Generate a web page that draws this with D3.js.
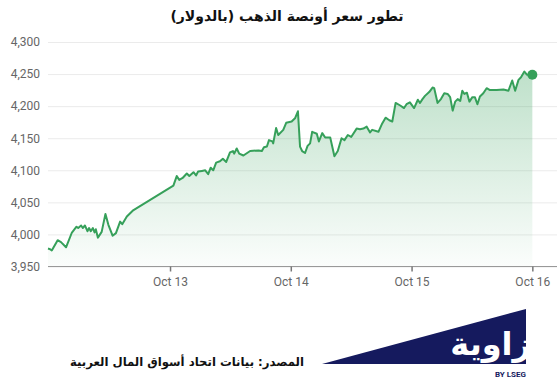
<!DOCTYPE html>
<html><head><meta charset="utf-8">
<script src="https://cdn.jsdelivr.net/npm/d3@7"></script>
<style>body{margin:0;background:#fff}svg{display:block}</style>
</head><body>
<svg id="c" width="557" height="385"></svg>
<script>
const titleText = "تطور سعر أونصة الذهب (بالدولار)";
const sourceText = "المصدر: بيانات اتحاد أسواق المال العربية";
const logoText = "زاوية";
const logoSub = "BY LSEG";
const yTicks = [3950, 4000, 4050, 4100, 4150, 4200, 4250, 4300];
const xTicks = ["2025-10-13 00:00", "2025-10-14 00:00", "2025-10-15 00:00", "2025-10-16 00:00"];
const xDomain = ["2025-10-11 23:45", "2025-10-16 04:54"];
const times = [
"2025-10-11 23:45","2025-10-12 00:10","2025-10-12 00:30","2025-10-12 01:40","2025-10-12 02:20","2025-10-12 03:20",
"2025-10-12 04:30","2025-10-12 05:25","2025-10-12 05:45","2025-10-12 06:20","2025-10-12 06:40","2025-10-12 07:05",
"2025-10-12 07:35","2025-10-12 07:55","2025-10-12 08:15","2025-10-12 08:40","2025-10-12 09:00","2025-10-12 09:15",
"2025-10-12 09:40","2025-10-12 10:25","2025-10-12 11:10","2025-10-12 11:45","2025-10-12 12:35","2025-10-12 13:15",
"2025-10-12 14:05","2025-10-12 14:30","2025-10-12 15:25","2025-10-12 16:35",
"2025-10-13 00:40","2025-10-13 01:20","2025-10-13 01:50","2025-10-13 02:30","2025-10-13 03:20","2025-10-13 03:50",
"2025-10-13 04:40","2025-10-13 05:10","2025-10-13 05:35","2025-10-13 06:20","2025-10-13 07:00","2025-10-13 07:35",
"2025-10-13 08:05","2025-10-13 08:35","2025-10-13 09:10","2025-10-13 09:55","2025-10-13 10:30","2025-10-13 11:10",
"2025-10-13 11:55","2025-10-13 12:30","2025-10-13 12:45","2025-10-13 13:15","2025-10-13 13:45","2025-10-13 14:35",
"2025-10-13 15:55","2025-10-13 17:35","2025-10-13 18:15","2025-10-13 18:40","2025-10-13 19:15","2025-10-13 19:40",
"2025-10-13 20:20","2025-10-13 20:30","2025-10-13 21:05","2025-10-13 21:30","2025-10-13 22:30","2025-10-13 23:05",
"2025-10-14 00:10","2025-10-14 00:50","2025-10-14 01:25","2025-10-14 01:50","2025-10-14 02:15","2025-10-14 02:50",
"2025-10-14 03:20","2025-10-14 03:50","2025-10-14 04:15","2025-10-14 05:10","2025-10-14 05:35","2025-10-14 06:15",
"2025-10-14 06:50","2025-10-14 07:50","2025-10-14 08:40","2025-10-14 09:20","2025-10-14 10:05","2025-10-14 10:40",
"2025-10-14 11:20","2025-10-14 12:00","2025-10-14 13:05","2025-10-14 13:45","2025-10-14 14:25","2025-10-14 15:05",
"2025-10-14 15:45","2025-10-14 16:10","2025-10-14 17:25","2025-10-14 18:10","2025-10-14 18:50","2025-10-14 19:35",
"2025-10-14 20:10","2025-10-14 20:50","2025-10-14 21:45","2025-10-14 22:30","2025-10-14 23:00","2025-10-14 23:40",
"2025-10-15 00:30","2025-10-15 01:15","2025-10-15 01:40","2025-10-15 02:10","2025-10-15 02:40","2025-10-15 03:30",
"2025-10-15 04:10","2025-10-15 04:30","2025-10-15 05:10","2025-10-15 05:50","2025-10-15 06:30","2025-10-15 07:10",
"2025-10-15 07:40","2025-10-15 08:10","2025-10-15 08:40","2025-10-15 09:10","2025-10-15 09:40","2025-10-15 10:05",
"2025-10-15 10:30","2025-10-15 11:00","2025-10-15 11:30","2025-10-15 12:05","2025-10-15 12:35","2025-10-15 13:05",
"2025-10-15 13:35","2025-10-15 14:15","2025-10-15 14:55","2025-10-15 15:35","2025-10-15 16:55","2025-10-15 18:15",
"2025-10-15 19:15","2025-10-15 20:00","2025-10-15 20:35","2025-10-15 21:15","2025-10-15 21:45","2025-10-15 22:25",
"2025-10-15 22:55","2025-10-16 00:00"];
const prices = [
3978,3977,3975,3991,3988,3980,
4003,4012,4010,4014,4010,4014,
4005,4010,4005,4010,4003,4008,
3995,4004,4032,4015,3998,4002,
4020,4016,4028,4037,
4076,4091,4085,4088,4095,4091,
4097,4092,4098,4099,4100,4094,
4104,4100,4112,4114,4118,4113,
4128,4130,4126,4134,4126,4123,
4130,4131,4130,4136,4137,4147,
4145,4142,4166,4155,4163,4174,
4176,4181,4192,4137,4130,4127,
4138,4142,4160,4157,4145,4158,
4151,4151,4122,4130,4150,4147,
4155,4152,4165,4164,4165,4168,
4159,4163,4160,4173,4182,4178,
4176,4205,4201,4197,4203,4206,
4197,4210,4205,4211,4216,4222,
4229,4228,4205,4211,4220,4219,
4214,4193,4207,4211,4208,4224,
4219,4221,4207,4214,4214,4203,
4215,4220,4228,4225,4225,4226,
4224,4240,4224,4241,4245,4254,
4249,4249];

const parse = d3.timeParse("%Y-%m-%d %H:%M");
const data = times.map((t, i) => ({t: parse(t), v: prices[i]}));

const W = 557, H = 385;
const L = 48, R = 557, T = 42, B = 266.5;
const green = "#36a05a";
const svg = d3.select("#c");

const x = d3.scaleTime().domain(xDomain.map(parse)).range([L, R]);
const y = d3.scaleLinear().domain([3950, 4300]).range([B, T]);

const defs = svg.append("defs");
const grad = defs.append("linearGradient").attr("id", "g").attr("x1", 0).attr("y1", 0).attr("x2", 0).attr("y2", 1);
grad.append("stop").attr("offset", "0%").attr("stop-color", green).attr("stop-opacity", 0.32);
grad.append("stop").attr("offset", "100%").attr("stop-color", green).attr("stop-opacity", 0.02);

// title
svg.append("text").attr("x", 287).attr("y", 21).attr("text-anchor", "middle")
  .attr("font-family", "DejaVu Sans, sans-serif").attr("font-weight", "bold").attr("font-size", 14)
  .attr("fill", "#111").attr("direction", "rtl").text(titleText);

// y grid + labels
const yAxis = d3.axisLeft(y).tickValues(yTicks).tickSize(-(R - L)).tickFormat(d3.format(","));
const gy = svg.append("g").attr("transform", `translate(${L},0)`).call(yAxis);
gy.select(".domain").remove();
gy.selectAll(".tick line").attr("stroke", "#ebebeb");
gy.selectAll(".tick text").attr("x", -8).attr("fill", "#666")
  .attr("font-family", "Roboto, sans-serif").attr("font-size", 12);

// area + line
svg.append("path").datum(data).attr("fill", "url(#g)")
  .attr("d", d3.area().x(d => x(d.t)).y0(y(3950)).y1(d => y(d.v)));
svg.append("path").datum(data).attr("fill", "none").attr("stroke", green).attr("stroke-width", 2)
  .attr("stroke-linejoin", "round")
  .attr("d", d3.line().x(d => x(d.t)).y(d => y(d.v)));
const last = data[data.length - 1];
svg.append("circle").attr("cx", x(last.t)).attr("cy", y(last.v)).attr("r", 5).attr("fill", green);

// x axis
const xAxis = d3.axisBottom(x).tickValues(xTicks.map(parse)).tickSize(5).tickPadding(6)
  .tickFormat(d3.timeFormat("%b %-d"));
const gx = svg.append("g").attr("transform", `translate(0,${B})`).call(xAxis);
gx.select(".domain").attr("stroke", "#999").attr("d", `M${L},0H${R}`);
gx.selectAll(".tick line").attr("stroke", "#777").attr("stroke-width", 1.5);
gx.selectAll(".tick text").attr("fill", "#666").attr("font-family", "Roboto, sans-serif").attr("font-size", 12);

// source
svg.append("text").attr("x", 304).attr("y", 366).attr("text-anchor", "end")
  .attr("font-family", "DejaVu Sans, sans-serif").attr("font-weight", "bold").attr("font-size", 11.7)
  .attr("fill", "#111").text(sourceText);

// logo
const navy = "#151a5e";
defs.append("clipPath").attr("id", "lc").append("rect").attr("x", 300).attr("y", 300).attr("width", 226).attr("height", 70);
const lg = svg.append("g").attr("clip-path", "url(#lc)");
lg.append("path").attr("d", "M322,364L526,309L526,364Z").attr("fill", navy);
lg.append("text").attr("x", 531).attr("y", 355).attr("text-anchor", "end")
  .attr("font-family", "DejaVu Sans, sans-serif").attr("font-weight", "bold").attr("font-size", 32)
  .attr("fill", "#fff").text(logoText);
svg.append("text").attr("x", 526).attr("y", 377).attr("text-anchor", "end")
  .attr("font-family", "Roboto, sans-serif").attr("font-weight", "bold").attr("font-size", 8)
  .attr("fill", navy).text(logoSub);
</script>
</body></html>
